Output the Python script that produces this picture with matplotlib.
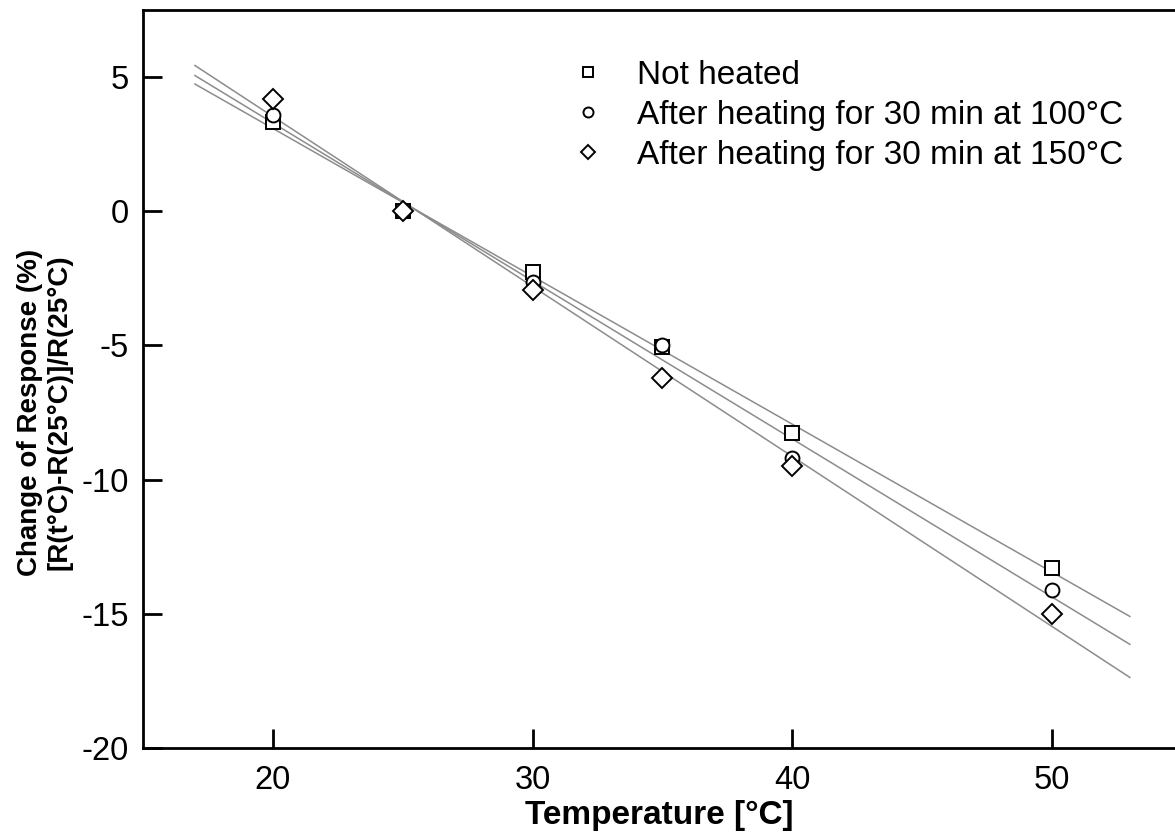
import matplotlib
matplotlib.use("Agg")
import matplotlib.pyplot as plt
import numpy as np

plt.rcParams["font.family"] = ["Liberation Sans", "DejaVu Sans"]
plt.rcParams["axes.unicode_minus"] = False

temps = [20, 25, 30, 35, 40, 50]
not_heated = [3.32, 0.0, -2.28, -5.07, -8.25, -13.28]
heated_100 = [3.58, 0.0, -2.65, -5.0, -9.18, -14.1]
heated_150 = [4.18, 0.0, -2.95, -6.23, -9.48, -15.0]

labels = ["Not heated",
          "After heating for 30 min at 100°C",
          "After heating for 30 min at 150°C"]
markers = ["s", "o", "D"]
sizes = [9.5, 10, 10]

fit_x = np.array([17, 53])

fig = plt.figure(figsize=(11.75, 8.34), dpi=100)
ax = fig.add_axes([143 / 1175, 86 / 834, 1 - 143 / 1175, 738 / 834])

# linear fit per series, drawn from 17 to 53 °C
for series, lab, m, ms in zip([not_heated, heated_100, heated_150], labels, markers, sizes):
    slope, icpt = np.polyfit(temps, series, 1)
    ax.plot(fit_x, slope * fit_x + icpt, color="#8c8c8c", lw=1.1, zorder=1)
    ax.plot(temps, series, ls="none", marker=m, ms=ms, mfc="white", mec="black",
            mew=1.4, label=lab, zorder=3)

ax.set_xlim(15, 15 + (1175 - 143) / 25.97)
ax.set_ylim(-20, 7.5)
ax.set_xticks([20, 30, 40, 50])
ax.set_yticks([-20, -15, -10, -5, 0, 5])
ax.tick_params(direction="in", length=14, width=2, labelsize=23.5)
ax.tick_params(axis="x", pad=12)
ax.tick_params(axis="y", pad=10)
for s in ["left", "bottom", "top"]:
    ax.spines[s].set_linewidth(2)
ax.spines["right"].set_visible(False)

ax.set_xlabel("Temperature [°C]", fontsize=24, fontweight="bold", labelpad=3)
fig.text(45 / 1175, 1 - 412 / 834, "Change of Response (%)\n[R(t°C)-R(25°C)]/R(25°C)",
         rotation=90, ha="center", va="center", multialignment="center",
         fontsize=20, fontweight="bold", linespacing=1.15)

leg = ax.legend(loc="upper left", bbox_to_anchor=(0.401, 0.955), frameon=False,
                fontsize=24, handlelength=0.9, handletextpad=1.0, labelspacing=0.27,
                markerscale=0.72, borderpad=0)

fig.savefig("out.png", dpi=100)
